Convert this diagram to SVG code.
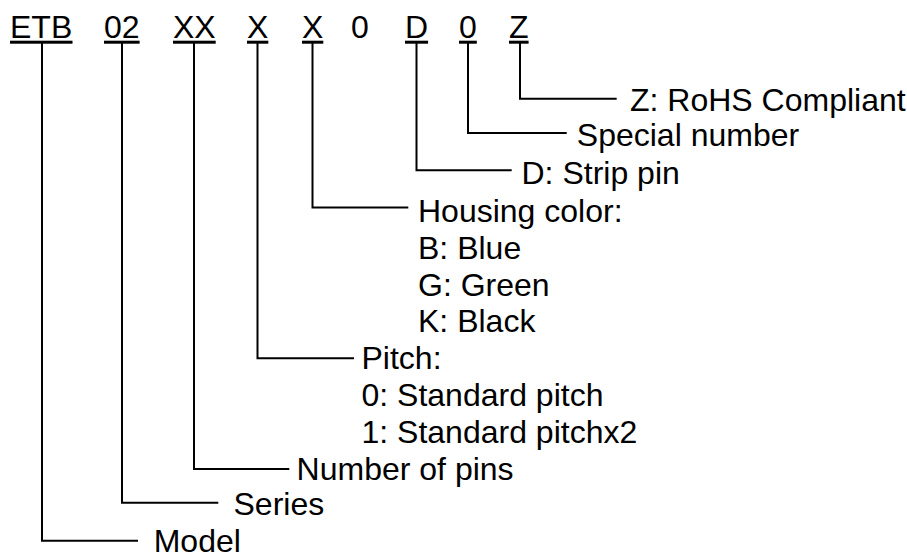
<svg xmlns="http://www.w3.org/2000/svg" width="907" height="554" viewBox="0 0 907 554">
<style>
text{font-family:"Liberation Sans",Arial,sans-serif;font-size:32px;fill:#000}
.ul{fill:#000}
.c{fill:none;stroke:#000;stroke-width:2}
</style>
<rect width="907" height="554" fill="#fff"/>
<g id="code">
<text x="10" y="37.5">ETB</text>
<text x="104" y="37.5">02</text>
<text x="173" y="37.5">XX</text>
<text x="247" y="37.5">X</text>
<text x="302" y="37.5">X</text>
<text x="351" y="37.5">0</text>
<text x="405" y="37.5">D</text>
<text x="459" y="37.5">0</text>
<text x="509" y="37.5">Z</text>
<rect class="ul" x="10" y="40.7" width="62.5" height="3"/>
<rect class="ul" x="104" y="40.7" width="35.6" height="3"/>
<rect class="ul" x="173" y="40.7" width="42.7" height="3"/>
<rect class="ul" x="247" y="40.7" width="21.3" height="3"/>
<rect class="ul" x="302" y="40.7" width="21.3" height="3"/>
<rect class="ul" x="405" y="40.7" width="23.1" height="3"/>
<rect class="ul" x="459" y="40.7" width="17.8" height="3"/>
<rect class="ul" x="509" y="40.7" width="19.6" height="3"/>
</g>
<g id="connectors">
<path class="c" d="M42,43 V540.7 H138"/>
<path class="c" d="M122,43 V502.7 H218.3"/>
<path class="c" d="M194,43 V469 H289.3"/>
<path class="c" d="M257.5,43 V358.3 H354"/>
<path class="c" d="M312.5,43 V207.5 H408.3"/>
<path class="c" d="M416.5,43 V170.3 H511.7"/>
<path class="c" d="M468,43 V133 H566.7"/>
<path class="c" d="M520,43 V98.7 H616.7"/>
</g>
<g id="label-z"><text x="630" y="111">Z: RoHS Compliant</text></g>
<g id="label-special"><text x="576.8" y="146">Special number</text></g>
<g id="label-d"><text x="521.5" y="184">D: Strip pin</text></g>
<g id="label-housing">
<text x="418" y="222">Housing color:</text>
<text x="418" y="259">B: Blue</text>
<text x="418" y="296">G: Green</text>
<text x="418" y="332">K: Black</text>
</g>
<g id="label-pitch">
<text x="361.5" y="368.5">Pitch:</text>
<text x="361.5" y="405.5">0: Standard pitch</text>
<text x="361.5" y="442.5">1: Standard pitchx2</text>
</g>
<g id="label-number"><text x="296.6" y="480">Number of pins</text></g>
<g id="label-series"><text x="233.5" y="515">Series</text></g>
<g id="label-model"><text x="153.7" y="552">Model</text></g>
</svg>
